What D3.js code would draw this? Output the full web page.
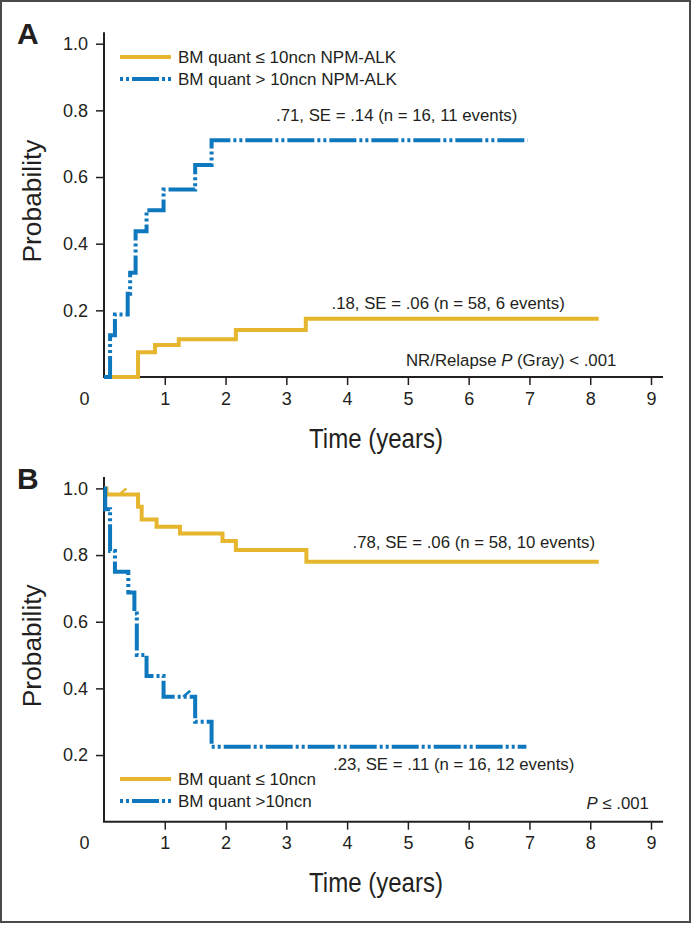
<!DOCTYPE html>
<html>
<head>
<meta charset="utf-8">
<script src="https://cdn.jsdelivr.net/npm/d3@7"></script>
<style>
  html, body { margin: 0; padding: 0; background: #fff; }
  svg { display: block; }
  text { font-family: "Liberation Sans", Arial, Helvetica, sans-serif; fill: #231f20; }
</style>
</head>
<body>
<svg id="chart" width="692" height="925"></svg>
<script>
// ---------- data ----------
const yearTicks = [0, 1, 2, 3, 4, 5, 6, 7, 8, 9];
const probTicks = [0.2, 0.4, 0.6, 0.8, 1.0];

// Panel A: cumulative incidence of NR/relapse
const aLowTime = [0, 0.56, 0.84, 1.23, 2.17, 3.32, 8.14];
const aLowProb = [0, 0.074, 0.096, 0.113, 0.141, 0.175, 0.175];
const aHighTime = [0, 0.1, 0.18, 0.39, 0.43, 0.52, 0.70, 0.98, 1.50, 1.77, 6.97];
const aHighProb = [0, 0.125, 0.1875, 0.25, 0.3125, 0.4375, 0.5, 0.5625, 0.636, 0.71, 0.71];

// Panel B: survival
const bLowTime = [0, 0.04, 0.56, 0.62, 0.865, 1.25, 1.95, 2.17, 3.33, 8.14];
const bLowProb = [1.0, 0.982, 0.945, 0.907, 0.885, 0.865, 0.842, 0.815, 0.78, 0.78];
const bHighTime = [0, 0.02, 0.1, 0.18, 0.4, 0.5, 0.54, 0.70, 0.98, 1.50, 1.77, 6.95];
const bHighProb = [1.0, 0.9375, 0.8125, 0.75, 0.6875, 0.625, 0.5, 0.4375, 0.375, 0.30, 0.225, 0.225];
const bLowCensorTime = [0.32], bLowCensorProb = [0.982];
const bHighCensorTime = [1.37], bHighCensorProb = [0.375];

const legendA = ["BM quant \u2264 10ncn NPM-ALK", "BM quant > 10ncn NPM-ALK"];
const legendB = ["BM quant \u2264 10ncn", "BM quant >10ncn"];

// ---------- style ----------
const YELLOW = "#E6B72E";
const BLUE = "#0E78BE";
const INK = "#231f20";
const DASH = "27,3,3,3,3,3";

const svg = d3.select("#chart");

// frame
svg.append("rect").attr("x", 1).attr("y", 1).attr("width", 689).attr("height", 921)
  .attr("fill", "none").attr("stroke", "#4a4a4a").attr("stroke-width", 2);

function zip(t, p) { return t.map((d, i) => ({ t: d, p: p[i] })); }

function panel(cfg) {
  const x = d3.scaleLinear().domain([0, 9]).range([104, 651]);
  const y = d3.scaleLinear().domain([0, 1]).range([cfg.y0, cfg.y0 - 333.3]);
  const g = svg.append("g");

  // panel letter
  g.append("text").attr("x", 17).attr("y", cfg.y0 - 333).attr("font-size", 30)
    .attr("font-weight", "bold").text(cfg.letter);

  // y axis
  const ya = g.append("g").attr("transform", "translate(104,0)")
    .call(d3.axisLeft(y).tickValues(probTicks).tickFormat(d3.format(".1f"))
      .tickSize(8).tickPadding(8).tickSizeOuter(0));
  ya.select(".domain").remove();
  ya.selectAll(".tick line").attr("stroke", INK).attr("stroke-width", 1.5);
  ya.selectAll(".tick text").attr("font-size", 18).attr("fill", INK)
    .attr("font-family", "'Liberation Sans', Arial, sans-serif");
  g.append("line").attr("x1", 104).attr("x2", 104).attr("y1", y(1) - 11.5).attr("y2", y(0))
    .attr("stroke", INK).attr("stroke-width", 2);

  // x axis
  const xa = g.append("g").attr("transform", `translate(0,${y(0)})`)
    .call(d3.axisBottom(x).tickValues(yearTicks).tickFormat(d3.format("d"))
      .tickSize(8).tickPadding(7).tickSizeOuter(0));
  xa.select(".domain").remove();
  xa.selectAll(".tick line").attr("stroke", INK).attr("stroke-width", 1.5)
    .filter(d => d === 0).remove();
  xa.selectAll(".tick text").attr("font-size", 18).attr("fill", INK)
    .attr("font-family", "'Liberation Sans', Arial, sans-serif")
    .filter(d => d === 0).attr("x", -20);
  g.append("line").attr("x1", 103).attr("x2", 663).attr("y1", y(0)).attr("y2", y(0))
    .attr("stroke", INK).attr("stroke-width", 2);

  // axis titles
  g.append("text").attr("transform", `translate(41,${cfg.y0 - 176}) rotate(-90)`)
    .attr("text-anchor", "middle").attr("font-size", 26)
    .attr("textLength", 123).attr("lengthAdjust", "spacingAndGlyphs").text("Probability");
  g.append("text").attr("x", 376).attr("y", cfg.y0 + 70.5).attr("text-anchor", "middle")
    .attr("font-size", 28).attr("textLength", 134).attr("lengthAdjust", "spacingAndGlyphs")
    .text("Time (years)");

  // curves
  const line = d3.line().x(d => x(d.t)).y(d => y(d.p)).curve(d3.curveStepAfter);
  g.append("path").datum(zip(cfg.lowT, cfg.lowP)).attr("d", line)
    .attr("fill", "none").attr("stroke", YELLOW).attr("stroke-width", 4);
  g.append("path").datum(zip(cfg.highT, cfg.highP)).attr("d", line)
    .attr("fill", "none").attr("stroke", BLUE).attr("stroke-width", 4)
    .attr("stroke-dasharray", DASH);

  // censor marks
  (cfg.censors || []).forEach(c => {
    zip(c.t, c.p).forEach(d => {
      g.append("line").attr("x1", x(d.t) - 4).attr("y1", y(d.p))
        .attr("x2", x(d.t) + 3).attr("y2", y(d.p) - 6)
        .attr("stroke", c.color).attr("stroke-width", 2.5);
    });
  });

  // legend
  cfg.legend.forEach((lab, i) => {
    const ly = cfg.legendY + i * 22;
    const l = g.append("line").attr("x1", 120).attr("x2", 171).attr("y1", ly).attr("y2", ly)
      .attr("stroke", i === 0 ? YELLOW : BLUE).attr("stroke-width", 4);
    if (i === 1) l.attr("stroke-dasharray", DASH).attr("stroke-dashoffset", 30);
    g.append("text").attr("x", 178).attr("y", ly + 6).attr("font-size", 17).text(lab);
  });

  // annotations
  cfg.notes.forEach(n => {
    const t = g.append("text").attr("x", n.x).attr("y", n.y).attr("font-size", 16.8);
    n.parts.forEach(p => {
      const s = t.append("tspan").text(p.s);
      if (p.i) s.attr("font-style", "italic");
    });
  });
}

panel({
  letter: "A", y0: 377, legendY: 57,
  lowT: aLowTime, lowP: aLowProb, highT: aHighTime, highP: aHighProb,
  legend: legendA,
  notes: [
    { x: 276, y: 121, parts: [{ s: ".71, SE = .14 (n = 16, 11 events)" }] },
    { x: 331.5, y: 309, parts: [{ s: ".18, SE = .06 (n = 58, 6 events)" }] },
    { x: 406, y: 366, parts: [{ s: "NR/Relapse " }, { s: "P", i: true }, { s: " (Gray) < .001" }] }
  ]
});

panel({
  letter: "B", y0: 821.7, legendY: 779,
  lowT: bLowTime, lowP: bLowProb, highT: bHighTime, highP: bHighProb,
  legend: legendB,
  censors: [
    { t: bLowCensorTime, p: bLowCensorProb, color: YELLOW },
    { t: bHighCensorTime, p: bHighCensorProb, color: BLUE }
  ],
  notes: [
    { x: 352.5, y: 548, parts: [{ s: ".78, SE = .06 (n = 58, 10 events)" }] },
    { x: 333, y: 770, parts: [{ s: ".23, SE = .11 (n = 16, 12 events)" }] },
    { x: 586.5, y: 809, parts: [{ s: "P", i: true }, { s: " \u2264 .001" }] }
  ]
});
</script>
</body>
</html>
